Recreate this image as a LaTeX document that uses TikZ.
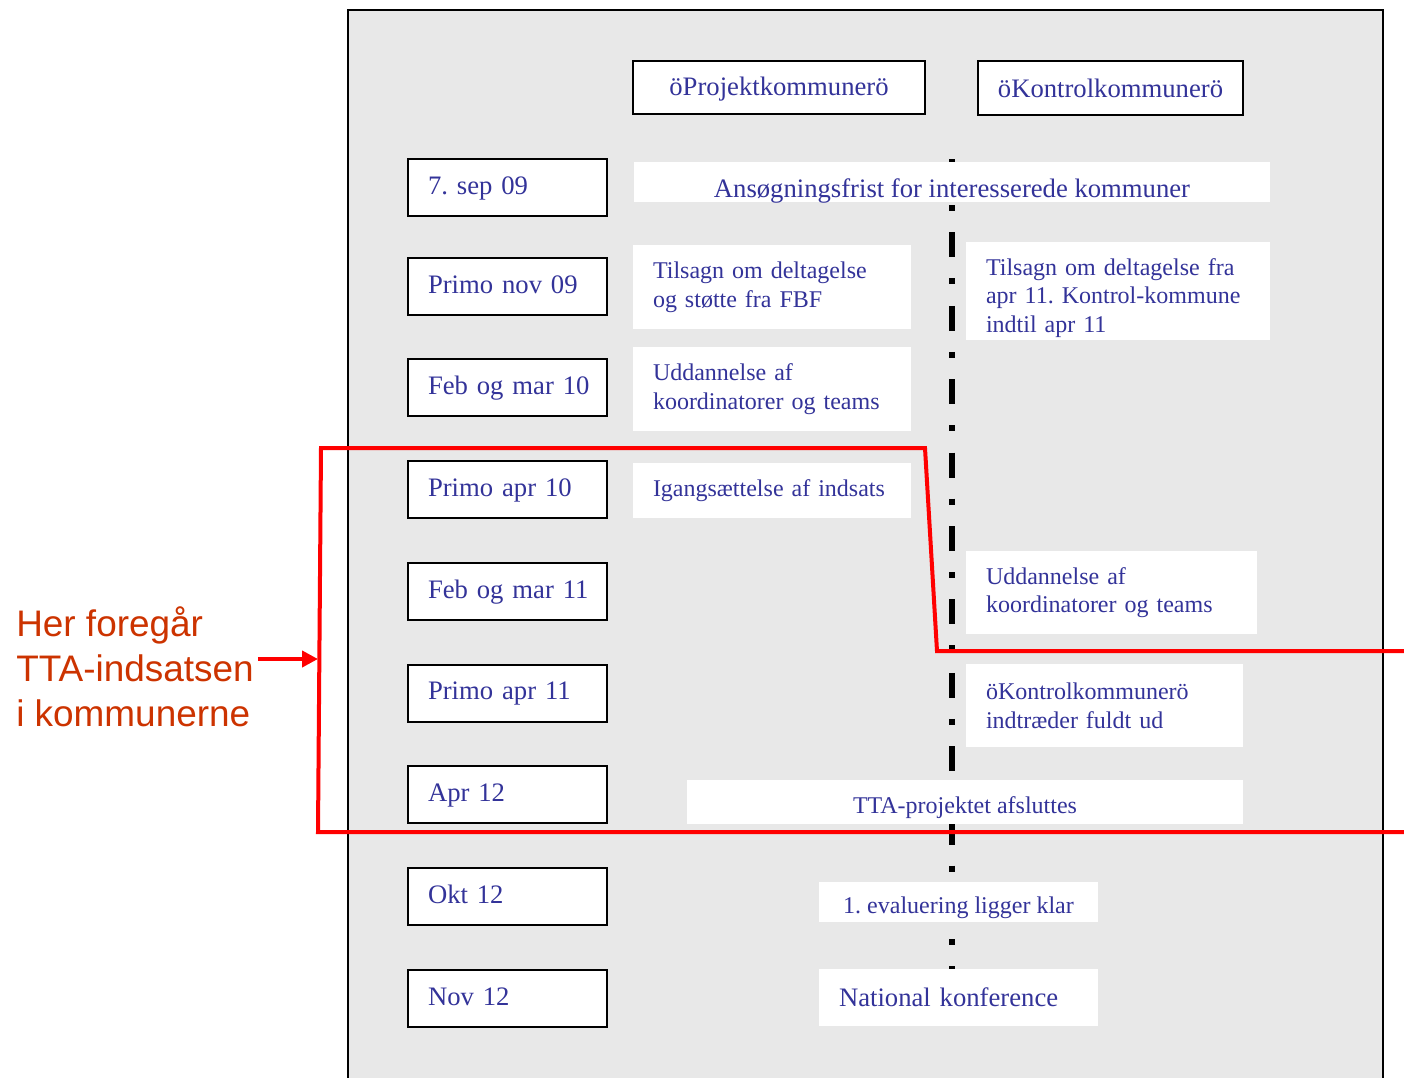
\documentclass[tikz,border=0pt]{standalone}
\usepackage{fontspec}
\setmainfont{Liberation Serif}
\newfontfamily\labelfont{Liberation Sans}
\usetikzlibrary{arrows.meta}
\definecolor{panelgray}{HTML}{E8E8E8}
\definecolor{txtblue}{HTML}{333399}
\definecolor{labelred}{HTML}{CC3300}
\frenchspacing
\tikzset{
  headbox/.style={draw, line width=1.5pt, fill=white, text=txtblue, font=\fontsize{20}{24}\selectfont, inner sep=0pt},
  datebox/.style={draw, line width=1.5pt, fill=white, text=txtblue, font=\fontsize{20}{24}\selectfont,
    minimum height=42.75pt, inner xsep=15pt, inner ysep=0pt, text width=119.25pt, align=left,
    text height=14pt, text depth=4pt},
  evbox/.style={fill=white, text=txtblue, font=\fontsize{18}{21.5}\selectfont, inner xsep=15pt, inner ysep=0pt, align=left},
  barbox/.style={fill=white, text=txtblue, font=\fontsize{18}{21.5}\selectfont, inner sep=0pt, text depth=0pt},
  timeline/.style={line width=4.5pt, dash pattern=on 18.75pt off 15.75pt on 4.5pt off 16.05pt}
}

\begin{document}
\begin{tikzpicture}[x=0.75pt, y=-0.75pt]
			%%%%% START %%%%%
			\useasboundingbox (0,0) rectangle (1404,1078);
			
			\draw[fill=panelgray, line width=1.2pt] (348,10) rectangle (1383,1110);
			
			% dash-dot line between the two columns
			\draw[timeline] (952,159) -- (952,1000);
			
			\node[headbox, minimum width=219pt, minimum height=39.75pt, text height=16pt] (projekt) at (779,87.5) {öProjektkommunerö};
			\node[headbox, minimum width=198.75pt, minimum height=40.5pt, text height=15pt] (kontrol) at (1110.5,88) {öKontrolkommunerö};
			
			\node[datebox] (d1) at (507.5,187.5) {7. sep~09};
			\node[datebox] (d2) at (507.5,286.5) {Primo~nov~09};
			\node[datebox] (d3) at (507.5,387.5) {Feb~og~mar~10};
			\node[datebox] (d4) at (507.5,489.5) {Primo~apr~10};
			\node[datebox] (d5) at (507.5,591.5) {Feb~og~mar~11};
			\node[datebox] (d6) at (507.5,693) {Primo~apr~11};
			\node[datebox] (d7) at (507.5,794.5) {Apr~12};
			\node[datebox] (d8) at (507.5,896.5) {Okt~12};
			\node[datebox] (d9) at (507.5,998.5) {Nov~12};
			
			\node[barbox, font=\fontsize{20}{24}\selectfont, minimum width=477pt, minimum height=30pt, text height=22.5pt] (ansog) at (952,182) {Ansøgningsfrist for interesserede kommuner};
			
			\node[evbox, text width=178.5pt, minimum height=63pt] (tilsagnP) at (772,287) {Tilsagn om deltagelse\\og støtte fra FBF};
			\node[evbox, text width=198pt, minimum height=73.5pt] (tilsagnK) at (1118,291) {\rule{0pt}{23pt}Tilsagn om deltagelse fra\\apr 11. Kontrol-kommune\\indtil apr 11};
			\node[evbox, text width=178.5pt, minimum height=63pt] (uddP) at (772,389) {Uddannelse af\\koordinatorer og teams};
			\node[evbox, text width=178.5pt, minimum height=41.25pt] (igang) at (772,490.5) {Igangsættelse af indsats};
			\node[evbox, text width=188.25pt, minimum height=62.25pt] (uddK) at (1111.5,592.5) {Uddannelse af\\koordinatorer og teams};
			\node[evbox, text width=177.75pt, minimum height=62.25pt] (indtr) at (1104.5,705.5) {öKontrolkommunerö\\indtræder fuldt ud};
			
			\node[barbox, minimum width=417pt, minimum height=33pt, text height=16.5pt] (afsl) at (965,802) {TTA-projektet afsluttes};
			\node[barbox, minimum width=209.25pt, minimum height=30pt, text height=16.5pt] (evalu) at (958.5,902) {1. evaluering ligger klar};
			\node[evbox, font=\fontsize{20}{24}\selectfont, text width=179.25pt, minimum height=42.75pt] (natl) at (958.5,997.5) {National konference};
			
			% red frame round the TTA period
			\draw[red, line width=3pt] (1410,651) -- (937,651) -- (925,448) -- (321,448) -- (318,832) -- (1410,832);
			
			\node[font=\labelfont\fontsize{27.7}{33.75}\selectfont, text=labelred, align=left, anchor=west, inner sep=0pt] (tta) at (16,667) {Her foregår\\TTA-indsatsen\\i kommunerne};
			\coordinate (redleft) at (318,659);
			\draw[red, line width=3pt, -{Triangle[length=12pt,width=12pt]}] ([xshift=3pt]tta.east |- redleft) -- (redleft);
			
			%%%%% END %%%%%
\end{tikzpicture}
\end{document}
